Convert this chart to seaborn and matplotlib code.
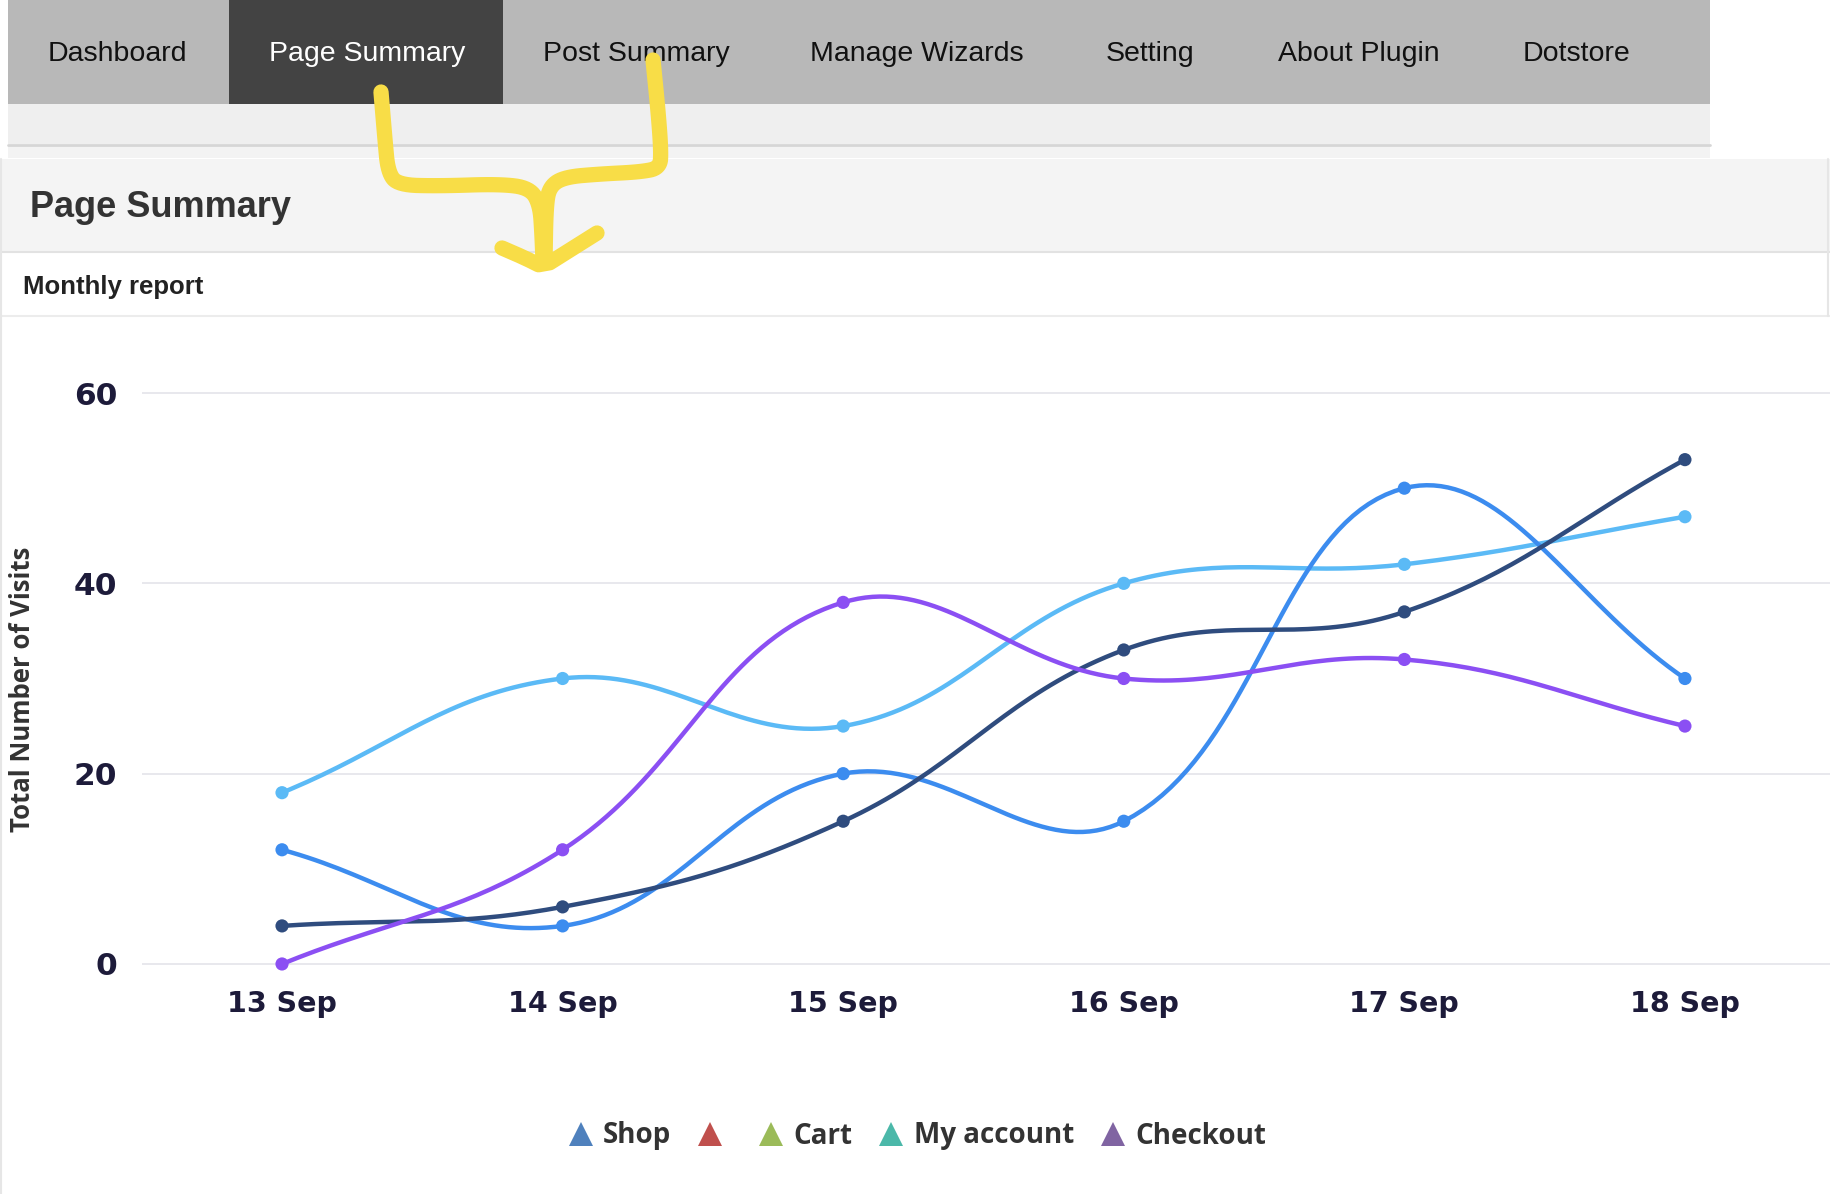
import numpy as np
import pandas as pd
import matplotlib
matplotlib.use("Agg")
import matplotlib.pyplot as plt
import seaborn as sns
from matplotlib.patches import Rectangle
from matplotlib.lines import Line2D

# ---------------- data ----------------
dates = ["13 Sep", "14 Sep", "15 Sep", "16 Sep", "17 Sep", "18 Sep"]
sky_visits = [18, 30, 25, 40, 42, 47]
blue_visits = [12, 4, 20, 15, 50, 30]
navy_visits = [4, 6, 15, 33, 37, 53]
purple_visits = [0, 12, 38, 30, 32, 25]
y_ticks = [0, 20, 40, 60]
legend_labels = ["Shop", "", "Cart", "My account", "Checkout"]
legend_colors = ["#4f81bd", "#c0504d", "#9bbb59", "#4bb8a9", "#8064a2"]
nav_tabs = ["Dashboard", "Page Summary", "Post Summary", "Manage Wizards",
            "Setting", "About Plugin", "Dotstore"]
page_title = "Page Summary"
panel_title = "Monthly report"
y_label = "Total Number of Visits"

sns.set_style("white")
plt.rcParams["font.family"] = ["Liberation Sans", "DejaVu Sans"]

W, H = 1830, 1194
fig = plt.figure(figsize=(W / 100, H / 100), dpi=100)
fig.patch.set_facecolor("white")


def fx(x):
    return x / W


def fy(y):
    return 1 - y / H


def rect(x0, y0, x1, y1, color, z=0):
    fig.add_artist(Rectangle((fx(x0), fy(y1)), (x1 - x0) / W, (y1 - y0) / H,
                             transform=fig.transFigure, facecolor=color,
                             edgecolor="none", zorder=z))


def hline(x0, x1, y, color, lw=1.2, z=1):
    fig.add_artist(Line2D([fx(x0), fx(x1)], [fy(y), fy(y)], transform=fig.transFigure,
                          color=color, lw=lw, zorder=z))


def vline(x, y0, y1, color, lw=1.2, z=1):
    fig.add_artist(Line2D([fx(x), fx(x)], [fy(y0), fy(y1)], transform=fig.transFigure,
                          color=color, lw=lw, zorder=z))


# ---------------- page chrome ----------------
rect(8, 0, 1710, 104, "#b8b8b8")
rect(229, 0, 503, 104, "#434343")
rect(8, 104, 1710, 144, "#efefef")
hline(8, 1710, 145, "#d6d6d6", lw=2)
rect(8, 146, 1710, 158, "#f3f3f3")
rect(0, 159, 1830, 252, "#f4f4f4")
hline(0, 1830, 252, "#e2e2e2", lw=1.5)
hline(0, 1830, 316, "#ececec", lw=1.5)
vline(1, 159, 1194, "#e6e6e6", lw=1.5)
vline(1828, 159, 316, "#e6e6e6", lw=1.5)

nav_x = [48, 269, 543, 810, 1106, 1278, 1523]
for i, (lab, x) in enumerate(zip(nav_tabs, nav_x)):
    fig.text(fx(x), fy(54), lab, ha="left", va="center", fontsize=20.5,
             color="white" if i == 1 else "#111111", zorder=3)

fig.text(fx(30), fy(208), page_title, ha="left", va="center", fontsize=26,
         fontweight="bold", color="#333333", zorder=3)
fig.text(fx(23), fy(287), panel_title, ha="left", va="center", fontsize=18.5,
         fontweight="bold", color="#222222", zorder=3)

# ---------------- chart ----------------
ax = fig.add_axes([fx(142), fy(983), 1688 / W, (983 - 374) / H])
ax.set_facecolor("none")
ax.set_xlim(-0.499, 5.517)
ax.set_ylim(-2, 62)
SX, SY = 280.6, 9.516  # pixel scale used for the spline distances


def smooth(xs, ys, tension=0.4, n=40):
    xs = np.asarray(xs, float)
    ys = np.asarray(ys, float)
    P = np.column_stack([xs, ys])
    scale = np.array([SX, SY])
    m = len(P)
    cprev, cnext = [], []
    for i in range(m):
        pp = P[i - 1] if i > 0 else P[i]
        pn = P[i + 1] if i < m - 1 else P[i]
        d01 = np.linalg.norm((P[i] - pp) * scale)
        d12 = np.linalg.norm((pn - P[i]) * scale)
        tot = d01 + d12
        s01 = d01 / tot if tot else 0
        s12 = d12 / tot if tot else 0
        cprev.append(P[i] - tension * s01 * (pn - pp))
        cnext.append(P[i] + tension * s12 * (pn - pp))
    out = [P[0]]
    t = np.linspace(0, 1, n)[1:, None]
    for i in range(m - 1):
        b = ((1 - t) ** 3 * P[i] + 3 * (1 - t) ** 2 * t * cnext[i]
             + 3 * (1 - t) * t ** 2 * cprev[i + 1] + t ** 3 * P[i + 1])
        out.extend(b)
    out = np.array(out)
    return out[:, 0], out[:, 1]


series = [
    ("sky", sky_visits, "#5bbaf6"),
    ("blue", blue_visits, "#3c8cef"),
    ("navy", navy_visits, "#2f4c7e"),
    ("purple", purple_visits, "#8b4ff3"),
]
xpos = np.arange(len(dates))
for name, vals, col in series:
    sx, sy = smooth(xpos, vals)
    df = pd.DataFrame({"x": sx, "y": sy})
    sns.lineplot(data=df, x="x", y="y", sort=False, estimator=None, ax=ax,
                 color=col, lw=3.2, zorder=3)
    sns.scatterplot(x=xpos, y=vals, ax=ax, color=col, s=90, edgecolor="none",
                    zorder=4)

ax.set_xticks(xpos)
ax.set_xticklabels(dates)
ax.set_yticks(y_ticks)
ax.set_xlabel("")
ax.set_ylabel("")
ax.yaxis.grid(True, color="#e6e6ec", lw=1.3)
ax.xaxis.grid(False)
ax.set_axisbelow(True)
for s in ax.spines.values():
    s.set_visible(False)
ax.tick_params(axis="both", length=0)
ax.tick_params(axis="y", pad=18)
ax.tick_params(axis="x", pad=5)
for lab in ax.get_xticklabels():
    lab.set_fontfamily("DejaVu Sans")
    lab.set_fontweight("bold")
    lab.set_fontsize(20.5)
    lab.set_color("#1d1b3a")
for lab in ax.get_yticklabels():
    lab.set_fontfamily("DejaVu Sans")
    lab.set_fontweight("bold")
    lab.set_fontsize(22.5)
    lab.set_color("#1d1b3a")

fig.text(fx(23), fy(689), y_label, rotation=90, ha="center", va="center",
         fontsize=18.5, fontfamily="Open Sans", fontweight="bold", color="#333333")

handles = [Line2D([], [], marker="^", linestyle="None", color=c, markersize=17,
                  markeredgewidth=0) for c in legend_colors]
fig.legend(handles, legend_labels, loc="center", bbox_to_anchor=(fx(917), fy(1136)),
           ncol=5, frameon=False, handlelength=0.9, handletextpad=0.35,
           columnspacing=0.95,
           prop={"family": "Open Sans", "weight": "bold", "size": 20},
           labelcolor="#333333")

# ---------------- yellow hand-drawn arrow ----------------
def chaikin(pts, it=3):
    p = np.asarray(pts, float)
    for _ in range(it):
        q = [p[0]]
        for a, b in zip(p[:-1], p[1:]):
            q.append(0.75 * a + 0.25 * b)
            q.append(0.25 * a + 0.75 * b)
        q.append(p[-1])
        p = np.array(q)
    return p


strokes = [
    [(381, 92), (385, 140), (388, 172), (398, 185), (440, 186),
     (500, 184), (530, 188), (540, 205), (542, 235), (543, 262)],
    [(653, 60), (658, 110), (661, 150), (660, 168), (640, 172), (600, 174),
     (565, 177), (550, 186), (546, 205), (545, 262)],
    [(502, 248), (525, 258), (543, 267), (570, 250), (597, 233)],
]
for st in strokes:
    p = chaikin(st, 3) if len(st) > 5 else chaikin(st, 1)
    fig.add_artist(Line2D(fx(p[:, 0]), fy(p[:, 1]), transform=fig.transFigure,
                          color="#f8dd47", lw=11, solid_capstyle="round",
                          solid_joinstyle="round", zorder=10))

fig.savefig("out.png", dpi=100, facecolor="white")
